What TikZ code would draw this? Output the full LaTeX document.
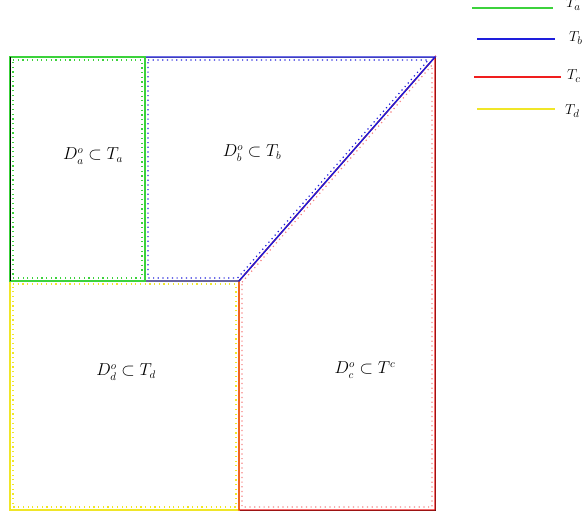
\documentclass[tikz,border=0pt]{standalone}
\usepackage{amsmath}
\begin{document}
\begin{tikzpicture}[x=1pt,y=-1pt,
  mesh/.style={black,line width=0.6pt},
  tsolid/.style={line width=1.4pt,line join=miter},
  tdot/.style={line width=1.2pt,dash pattern=on 1.2pt off 3.5pt},
  lab/.style={inner sep=0pt,font=\fontsize{16}{18}\selectfont},
  leg/.style={inner sep=0pt,anchor=west,font=\fontsize{15}{17}\selectfont},
  legline/.style={line width=1.3pt}]
\definecolor{cA}{RGB}{60,210,60}
\definecolor{cB}{RGB}{30,30,220}
\definecolor{cC}{RGB}{240,30,30}
\definecolor{cD}{RGB}{240,230,40}
\definecolor{cCd}{RGB}{245,130,130}
\useasboundingbox (0,0) rectangle (585,514);
% mesh points
\coordinate (A) at (10,57);
\coordinate (B) at (145,57);
\coordinate (C) at (435,57);
\coordinate (E) at (10,281);
\coordinate (F) at (145,281);
\coordinate (G) at (239,281);
\coordinate (H) at (10,510);
\coordinate (I) at (239,510);
\coordinate (J) at (435,510);
% mesh
\draw[mesh] (A) -- (E) -- (H);
\draw[mesh] (I) -- (J) -- (C);
\draw[mesh] (E) -- (G) -- (C);
\draw[mesh] (B) -- (F);
\draw[mesh] (G) -- (I);
\draw[mesh,gray] (A) -- (C);
% colored boundaries of T
\draw[tsolid,cD] (E) -- (G) -- (I) -- (H) -- cycle;
\draw[tsolid,cC] (G) -- (C) -- (J) -- (I) -- cycle;
\draw[tsolid,cB] (B) -- (C) -- (G) -- (F) -- cycle;
\draw[tsolid,cA] (A) -- (B) -- (F) -- (E) -- cycle;
\draw[mesh] (A) -- (E);
% inner dotted D^o
\draw[tdot,cA] (13,60) -- (142,60) -- (142,278) -- (13,278) -- cycle;
\draw[tdot,cB] (148,60) -- (428.3,60) -- (237.6,278) -- (148,278) -- cycle;
\draw[tdot,cCd] (242,282.2) -- (432,65.1) -- (432,507) -- (242,507) -- cycle;
\draw[tdot,cD] (13,284) -- (236,284) -- (236,507) -- (13,507) -- cycle;
% labels
\node[lab] (la) at (93,156) {$D_a^o\subset T_a$};
\node[lab] (lb) at (252,153) {$D_b^o\subset T_b$};
\node[lab] (ld) at (126,372) {$D_d^o\subset T_d$};
\node[lab] (lc) at (365,370) {$D_c^o\subset T^c$};
% legend
\coordinate (ga) at (472,8); \coordinate (gb) at (553,8);
\coordinate (ba) at (477,39); \coordinate (bb) at (555,39);
\coordinate (ra) at (474,77); \coordinate (rb) at (561,77);
\coordinate (ya) at (477,109); \coordinate (yb) at (555,109);
\draw[legline,cA] (ga) -- (gb);
\draw[legline,cB] (ba) -- (bb);
\draw[legline,cC] (ra) -- (rb);
\draw[legline,cD] (ya) -- (yb);
\node[leg] (ta) at (566,4) {$T_a$};
\node[leg] (tb) at (569,38) {$T_b$};
\node[leg] (tc) at (567,76) {$T_c$};
\node[leg] (td) at (565,111) {$T_d$};
\end{tikzpicture}
\end{document}
